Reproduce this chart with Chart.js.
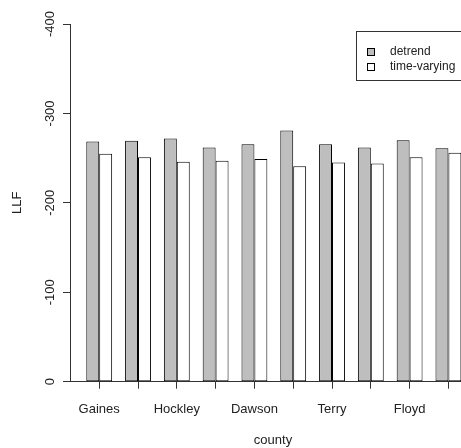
<!DOCTYPE html>
<html>
<head>
<meta charset="utf-8">
<script src="https://cdn.jsdelivr.net/npm/chart.js@4/dist/chart.umd.min.js"></script>
<style>
  html, body { margin: 0; padding: 0; overflow: hidden; background: #fff; }
  #wrap { width: 500px; height: 448px; }
</style>
</head>
<body>
<div id="wrap"><canvas id="c" width="500" height="448"></canvas></div>
<script>
// County names (only every other group carries a printed label)
const counties = ['Gaines', '', 'Hockley', '', 'Dawson', '', 'Terry', '', 'Floyd', ''];
// Log-likelihood values per county
const detrend = [-268.5, -269.5, -272, -262, -265.5, -281, -265.5, -262, -270, -261];
const timeVarying = [-255, -251, -246, -247, -249, -241, -245, -244, -251, -256];
// Value axis ticks
const yTicks = [0, -100, -200, -300, -400];
// Horizontal extent of the plot in group units (first group sits at 0)
const xRange = [-0.753, 9.711];

const FONT = '"Liberation Sans", Arial, sans-serif';
const INK = '#222';

// Framed legend in the top-right corner of the plot region
const boxLegend = {
  id: 'boxLegend',
  afterDraw(chart) {
    const { ctx, chartArea } = chart;
    const w = 120, h = 49;
    const x = Math.round(chartArea.right - w) + 0.5;
    const y = Math.round(chartArea.top + 7) + 0.5;
    ctx.save();
    ctx.lineWidth = 1;
    ctx.strokeStyle = '#333';
    ctx.strokeRect(x, y, w, h);
    ctx.font = '12px ' + FONT;
    ctx.textBaseline = 'middle';
    chart.data.datasets.forEach((ds, i) => {
      const cy = y + 20.5 + i * 15;
      ctx.fillStyle = ds.backgroundColor;
      ctx.fillRect(x + 11, cy - 3.5, 7, 7);
      ctx.strokeStyle = '#000';
      ctx.strokeRect(x + 11, cy - 3.5, 7, 7);
      ctx.fillStyle = INK;
      ctx.fillText(ds.label, x + 33.5, cy);
    });
    ctx.restore();
  }
};

new Chart(document.getElementById('c'), {
  type: 'bar',
  data: {
    datasets: [
      {
        label: 'detrend',
        data: detrend.map((v, i) => ({ x: i, y: v })),
        backgroundColor: '#bebebe',
        borderColor: '#000',
        borderWidth: 1,
        borderSkipped: false
      },
      {
        label: 'time-varying',
        data: timeVarying.map((v, i) => ({ x: i, y: v })),
        backgroundColor: '#ffffff',
        borderColor: '#000',
        borderWidth: 1,
        borderSkipped: false
      }
    ]
  },
  options: {
    responsive: false,
    animation: false,
    devicePixelRatio: 1,
    layout: { padding: { top: 24, right: 24, left: 0, bottom: 0 } },
    datasets: {
      bar: { categoryPercentage: 2 / 3, barPercentage: 1 }
    },
    plugins: {
      legend: { display: false },
      tooltip: { enabled: false }
    },
    scales: {
      x: {
        type: 'linear',
        offset: false,
        min: xRange[0],
        max: xRange[1],
        afterFit(scale) { scale.height = 66.3; },
        ticks: {
          stepSize: 1,
          autoSkip: false,
          includeBounds: false,
          maxRotation: 0,
          padding: 12.5,
          color: INK,
          font: { family: FONT, size: 13 },
          callback: (v) => counties[v] ?? ''
        },
        grid: { offset: false, drawOnChartArea: false, drawTicks: true, tickLength: 7, color: '#333' },
        border: { display: true, color: '#333' },
        title: {
          display: true,
          text: 'county',
          color: INK,
          font: { family: FONT, size: 13 },
          padding: { top: 0, bottom: 0 }
        }
      },
      y: {
        min: yTicks[yTicks.length - 1],
        max: yTicks[0],
        reverse: true,
        afterFit(scale) { scale.width = 70; },
        afterBuildTicks(scale) { scale.ticks = yTicks.map(v => ({ value: v })); },
        ticks: {
          minRotation: 90,
          maxRotation: 90,
          crossAlign: 'center',
          padding: 0,
          color: INK,
          font: { family: FONT, size: 13 }
        },
        grid: { drawOnChartArea: false, drawTicks: true, tickLength: 7, color: '#333' },
        border: { display: true, color: '#333' },
        title: {
          display: true,
          text: 'LLF',
          color: INK,
          font: { family: FONT, size: 13 },
          padding: { top: 10, bottom: 0 }
        }
      }
    }
  },
  plugins: [boxLegend]
});
</script>
</body>
</html>
